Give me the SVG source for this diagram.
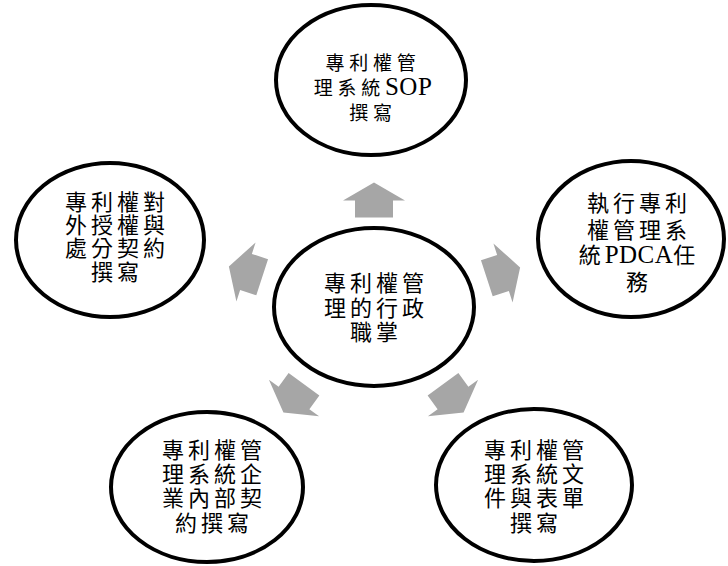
<svg xmlns="http://www.w3.org/2000/svg" width="728" height="566" viewBox="0 0 728 566">
  <defs>
    <style>
      .bubble { fill: #ffffff; stroke: #000000; stroke-width: 4; }
      .label { font-family: "Liberation Serif", "Noto Sans CJK TC", serif; font-size: 22px; letter-spacing: 4px; fill: #000000; text-anchor: middle; }
      .small { font-size: 19px; letter-spacing: 4.75px; }
      .latin { font-size: 25px; letter-spacing: 0.5px; }
      .flow { fill: #a6a6a6; }
    </style>
    <!-- block arrow pointing up, centred on the origin -->
    <path id="blockArrow" d="M0,-18 L31,0 L19,0 L19,17 L-19,17 L-19,0 L-31,0 Z"/>
  </defs>

  <rect width="728" height="566" fill="#ffffff"/>

  <!-- connectors: radial block arrows from the hub -->
  <g id="connectors" class="flow">
    <use href="#blockArrow" transform="translate(374,200.5)"/>
    <use href="#blockArrow" transform="translate(246,272) rotate(-72)"/>
    <use href="#blockArrow" transform="translate(503,273) rotate(72)"/>
    <use href="#blockArrow" transform="translate(294,398) rotate(-144)"/>
    <use href="#blockArrow" transform="translate(453,398) rotate(144)"/>
  </g>

  <g id="node-top">
    <ellipse class="bubble" cx="371" cy="80" rx="95" ry="75"/>
    <text class="label small" x="373" y="70">專利權管</text>
    <text class="label small" x="373" y="95">理系統<tspan class="latin">SOP</tspan></text>
    <text class="label small" x="373" y="120">撰寫</text>
  </g>

  <g id="node-hub">
    <ellipse class="bubble" cx="374" cy="307" rx="100" ry="79"/>
    <text class="label" x="376" y="291">專利權管</text>
    <text class="label" x="376" y="316">理的行政</text>
    <text class="label" x="376" y="340">職掌</text>
  </g>

  <g id="node-left">
    <ellipse class="bubble" cx="110" cy="240" rx="94" ry="77"/>
    <text class="label" x="117" y="210">專利權對</text>
    <text class="label" x="117" y="233">外授權與</text>
    <text class="label" x="117" y="256">處分契約</text>
    <text class="label" x="117" y="280">撰寫</text>
  </g>

  <g id="node-right">
    <ellipse class="bubble" cx="631" cy="239" rx="93" ry="78"/>
    <text class="label" x="639" y="211">執行專利</text>
    <text class="label" x="639" y="238">權管理系</text>
    <text class="label" x="639" y="263">統<tspan class="latin">PDCA</tspan>任</text>
    <text class="label" x="639" y="290">務</text>
  </g>

  <g id="node-bottom-left">
    <ellipse class="bubble" cx="207" cy="487" rx="96" ry="75"/>
    <text class="label" x="214" y="458">專利權管</text>
    <text class="label" x="214" y="482">理系統企</text>
    <text class="label" x="214" y="506">業內部契</text>
    <text class="label" x="214" y="531">約撰寫</text>
  </g>

  <g id="node-bottom-right">
    <ellipse class="bubble" cx="534" cy="485" rx="98" ry="76"/>
    <text class="label" x="536" y="458">專利權管</text>
    <text class="label" x="536" y="482">理系統文</text>
    <text class="label" x="536" y="506">件與表單</text>
    <text class="label" x="536" y="531">撰寫</text>
  </g>
</svg>
